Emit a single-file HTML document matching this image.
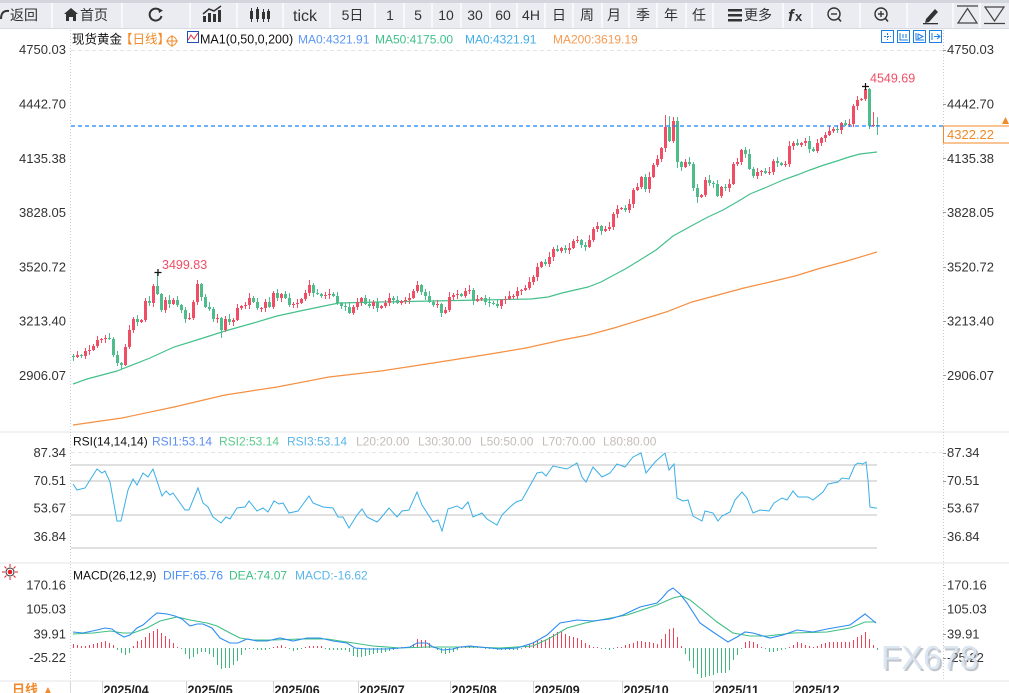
<!DOCTYPE html>
<html><head><meta charset="utf-8">
<style>
html,body{margin:0;padding:0;width:1009px;height:693px;overflow:hidden;background:#fff;}
svg{position:absolute;left:0;top:0;}
svg text{font-family:"Liberation Sans","Noto Sans CJK SC",sans-serif;}
</style></head><body>
<svg id="main" width="1009" height="693" viewBox="0 0 1009 693"></svg>
<svg id="tb" width="1009" height="29" viewBox="0 0 1009 29">
<rect x="0" y="0" width="1009" height="29" fill="#d3d6dc"/>
<rect x="0" y="3" width="1009" height="25" fill="#f7f8fa"/>
<g fill="#eaecf1">
<rect x="0" y="3" width="51" height="25"/><rect x="53" y="3" width="68" height="25"/><rect x="123" y="3" width="66" height="25"/>
<rect x="191" y="3" width="45" height="25"/><rect x="238" y="3" width="44" height="25"/><rect x="284" y="3" width="45" height="25"/>
<rect x="331" y="3" width="43" height="25"/><rect x="376" y="3" width="27" height="25"/><rect x="405" y="3" width="26" height="25"/>
<rect x="433" y="3" width="27" height="25"/><rect x="462" y="3" width="27" height="25"/><rect x="491" y="3" width="25" height="25"/>
<rect x="518" y="3" width="26" height="25"/><rect x="546" y="3" width="26" height="25"/><rect x="574" y="3" width="27" height="25"/>
<rect x="603" y="3" width="25" height="25"/><rect x="630" y="3" width="26" height="25"/><rect x="658" y="3" width="27" height="25"/>
<rect x="687" y="3" width="25" height="25"/><rect x="714" y="3" width="68" height="25"/><rect x="784" y="3" width="27" height="25"/>
<rect x="813" y="3" width="46" height="25"/><rect x="861" y="3" width="45" height="25"/><rect x="908" y="3" width="44" height="25"/>
<rect x="954" y="3" width="25" height="25"/><rect x="981" y="3" width="28" height="25"/>
</g>
<rect x="0" y="28" width="1009" height="1" fill="#d6d9de"/>
<g fill="#333" font-size="14">
<path d="M1 19 Q1 10 9 11" stroke="#333" stroke-width="2" fill="none"/>
<text x="10" y="20">返回</text>
<path d="M71 8 L78 14 L76 14 L76 21 L73 21 L73 17 L69 17 L69 21 L66 21 L66 14 L64 14 Z"/>
<text x="80" y="20">首页</text>
<path d="M160.5 11 A6 6 0 1 0 161.5 16" stroke="#333" stroke-width="2" fill="none"/>
<path d="M158 8 L163 10.5 L159 13 Z"/>
<rect x="203" y="16" width="3" height="6"/><rect x="208" y="13" width="3" height="9"/><rect x="213" y="14" width="3" height="8"/><rect x="218" y="10" width="3" height="12"/>
<path d="M203 14 L209 9 L214 11 L221 6" stroke="#333" stroke-width="1.5" fill="none"/>
<rect x="250" y="11" width="3" height="8"/><rect x="251" y="8" width="1" height="14"/>
<rect x="256" y="9" width="3" height="10"/><rect x="257" y="7" width="1" height="15"/>
<rect x="262" y="12" width="3" height="7"/><rect x="263" y="9" width="1" height="13"/>
<rect x="267" y="11" width="3" height="8"/><rect x="268" y="9" width="1" height="13"/>
<text x="293" y="21" font-size="16">tick</text>
<text x="352.5" y="20" text-anchor="middle">5日</text>
<text x="390" y="20" text-anchor="middle">1</text>
<text x="418" y="20" text-anchor="middle">5</text>
<text x="446" y="20" text-anchor="middle">10</text>
<text x="475" y="20" text-anchor="middle">30</text>
<text x="503" y="20" text-anchor="middle">60</text>
<text x="531" y="20" text-anchor="middle">4H</text>
<text x="559" y="20" text-anchor="middle">日</text>
<text x="587" y="20" text-anchor="middle">周</text>
<text x="614" y="20" text-anchor="middle">月</text>
<text x="643" y="20" text-anchor="middle">季</text>
<text x="671" y="20" text-anchor="middle">年</text>
<text x="699" y="20" text-anchor="middle">任</text>
<rect x="728" y="9" width="14" height="2.5"/><rect x="728" y="14" width="14" height="2.5"/><rect x="728" y="19" width="14" height="2.5"/>
<text x="744" y="20">更多</text>
<text x="788" y="21" font-size="17" font-weight="bold" font-style="italic" font-family="Liberation Serif">f</text>
<text x="795" y="21" font-size="13" font-weight="bold">x</text>
<circle cx="834" cy="14" r="6" stroke="#333" stroke-width="1.4" fill="none"/>
<rect x="831" y="13.3" width="6" height="1.4"/>
<path d="M838 18 L841 21.5" stroke="#333" stroke-width="1.6"/>
<circle cx="881" cy="14" r="6" stroke="#333" stroke-width="1.4" fill="none"/>
<rect x="878" y="13.3" width="6" height="1.4"/><rect x="880.3" y="11" width="1.4" height="6"/>
<path d="M885 18 L888 21.5" stroke="#333" stroke-width="1.6"/>
<path d="M926 19 L935 9 L938 12 L929 22 L925 23 Z"/>
<rect x="923" y="23" width="15" height="1.3"/>
<path d="M957 6 L978 6" stroke="#444" stroke-width="1.2"/>
<path d="M958 23 L967.5 8.5 L977 23 Z" stroke="#444" stroke-width="1.2" fill="none"/>
<path d="M985 7 L994.5 21 L1004 7 Z" stroke="#444" stroke-width="1.2" fill="none"/>
<path d="M984 23.5 L1005 23.5" stroke="#444" stroke-width="1.2"/>
</g>
</svg>
<script>
const C=[357,355,356,351,350,346,340,339,338,339,
355,363,365,347,330,319,322,320,301,303,
286,294,310,300,304,300,305,310,319,318,
302,284,297,307,309,319,318,330,319,322,
320,308,306,305,298,302,308,308,302,307,
293,298,294,298,305,304,303,299,293,285,
293,294,296,295,294,296,303,306,307,313,
307,302,298,304,306,302,308,306,303,298,
300,303,301,300,298,291,285,292,296,302,
305,304,313,310,297,295,294,296,291,290,
301,299,298,302,303,304,306,300,299,296,
296,291,290,288,282,277,267,262,264,257,
249,251,248,250,248,241,240,245,247,240,
229,226,231,229,227,214,209,208,210,204,
190,187,177,189,177,165,159,148,127,141,
121,162,167,162,164,188,197,195,180,183,
184,196,187,188,184,164,162,150,154,169,
176,172,171,173,172,161,163,165,164,146,
143,145,143,141,149,151,143,138,135,131,
129,130,123,125,124,106,100,99,89,126,
125,126];
const HI={21:272,148:115,149:116,150:117,151:117,198:86,199:88,200:112,201:117};
const LO={37:338,151:168,156:203,199:129,200:127,201:135};
const MA50=[[73,384],[87,379],[117,371],[150,358],[174,347],[200,339],[225,331],[250,324],[277,316],[300,311],[329,305],[339,303],[380,302],[433,301],[480,300],[531,299],[548,297],[562,293],[575,290],[588,287],[601,282],[614,275],[627,268],[640,260],[656,250],[673,236],[693,225],[708,217],[723,210],[737,202],[750,194],[767,187],[783,180],[797,175],[810,170],[824,165],[837,161],[849,157],[860,154],[877,152]];
const MA200=[[73,425],[122,418],[174,407],[225,395],[277,387],[329,377],[381,371],[433,363],[484,355],[526,348],[562,340],[588,335],[614,328],[640,320],[666,312],[692,302],[718,295],[744,288],[770,282],[795,276],[821,268],[847,261],[877,252]];
const RSI=[[73,484],[77,490],[85,488],[90,480],[97,469],[102,473],[105,471],[110,482],[117,521],[121,521],[128,490],[133,479],[137,485],[143,473],[148,477],[153,469],[162,496],[166,491],[170,495],[173,493],[185,510],[189,510],[198,488],[203,503],[208,507],[213,517],[221,523],[226,517],[230,519],[237,508],[245,507],[249,501],[257,511],[263,508],[268,512],[274,501],[279,504],[283,503],[289,513],[298,511],[309,496],[313,503],[323,507],[333,508],[338,517],[343,517],[349,528],[357,515],[362,509],[367,517],[377,522],[380,519],[389,508],[397,517],[402,511],[409,510],[417,492],[422,505],[433,522],[438,520],[442,531],[448,509],[457,506],[462,509],[468,502],[473,517],[482,513],[487,519],[497,525],[502,515],[510,507],[516,502],[522,500],[537,473],[542,472],[546,476],[553,466],[567,469],[577,463],[582,477],[586,482],[593,467],[602,477],[610,473],[617,464],[625,467],[633,457],[641,453],[646,473],[655,462],[665,453],[669,470],[674,464],[677,498],[683,501],[688,500],[693,516],[702,521],[705,511],[713,513],[718,521],[722,516],[730,512],[735,500],[742,492],[747,498],[753,513],[760,510],[769,511],[774,503],[782,498],[787,500],[793,491],[798,497],[808,497],[813,500],[823,492],[828,484],[838,482],[842,478],[849,479],[855,465],[858,463],[863,464],[866,462],[868,480],[870,507],[875,508],[877,508]];
const DIFF=[[73,632],[83,633],[97,630],[105,628],[112,629],[117,633],[124,637],[130,635],[137,628],[143,625],[152,617],[157,613],[167,614],[175,616],[182,619],[190,626],[197,624],[203,624],[212,628],[220,638],[230,643],[238,643],[247,639],[257,641],[267,641],[280,638],[293,641],[307,638],[320,638],[333,641],[347,643],[355,648],[367,649],[387,649],[400,648],[410,647],[417,643],[427,643],[433,647],[443,650],[453,649],[460,647],[470,646],[480,647],[490,648],[500,649],[517,648],[533,643],[547,635],[560,623],[577,620],[593,621],[610,619],[623,615],[640,607],[657,603],[663,597],[668,591],[673,588],[680,594],[687,603],[700,623],[713,632],[728,642],[737,637],[745,632],[753,633],[770,638],[783,635],[797,630],[813,632],[827,629],[850,625],[865,614],[876,623]];
const DEA=[[73,634],[93,633],[110,631],[123,633],[133,633],[147,628],[160,621],[177,617],[190,620],[207,623],[217,626],[230,633],[240,638],[253,640],[273,640],[300,639],[327,639],[347,642],[360,644],[373,646],[400,648],[427,647],[447,647],[473,647],[500,648],[533,646],[550,638],[567,628],[585,623],[600,620],[627,615],[657,605],[673,598],[682,596],[690,600],[700,608],[717,622],[733,633],[750,636],[767,636],[793,633],[827,632],[850,628],[865,622],[876,622]];
function interp(P,x){if(x<=P[0][0])return P[0][1];for(let k=1;k<P.length;k++){if(x<=P[k][0]){const a=P[k-1],b=P[k];return a[1]+(b[1]-a[1])*(x-a[0])/(b[0]-a[0]);}}return P[P.length-1][1];}
function pl(P,col,w){return '<polyline points="'+P.map(p=>p.join(',')).join(' ')+'" fill="none" stroke="'+col+'" stroke-width="'+(w||1)+'"/>';}
function t(x,y,s,col,fs,extra){return '<text x="'+x+'" y="'+y+'" fill="'+col+'" font-size="'+fs+'" '+(extra||'')+'>'+s+'</text>';}
let s='';
s+='<rect x="0" y="431.5" width="1009" height="1" fill="#e2e4e8"/>';
s+='<rect x="0" y="562.5" width="1009" height="1" fill="#e2e4e8"/>';
s+='<rect x="0" y="680.5" width="1009" height="1" fill="#e2e4e8"/>';
s+='<line x1="70.5" y1="30" x2="70.5" y2="681" stroke="#c9cbd0" stroke-dasharray="1,2"/>';
s+='<line x1="943.5" y1="30" x2="943.5" y2="681" stroke="#c9cbd0" stroke-dasharray="1,2"/>';
s+='<line x1="71" y1="50.5" x2="943" y2="50.5" stroke="#e4e4e4" stroke-dasharray="4,3"/>';
s+='<line x1="71" y1="452.5" x2="943" y2="452.5" stroke="#e4e4e4" stroke-dasharray="4,3"/>';
[465,481,515,548].forEach(y=>{s+='<rect x="71" y="'+(y-0.5)+'" width="806" height="1" fill="#c2c2c2"/>';});
const pl_=['4750.03','4442.70','4135.38','3828.05','3520.72','3213.40','2906.07'];
pl_.forEach((v,k)=>{const c=49.5+54.3*k;s+=t(66,c+4.7,v,'#333',13,'text-anchor="end"');s+=t(947,c+4.7,v,'#333',13);s+='<rect x="943" y="'+Math.round(c)+'" width="3" height="1" fill="#999"/>';});
[['87.34',452.5],['70.51',480.5],['53.67',508],['36.84',536.5],['170.16',585],['105.03',609],['39.91',634],['-25.22',657.5]].forEach(a=>{s+=t(66,a[1]+4.7,a[0],'#333',13,'text-anchor="end"');s+=t(947,a[1]+4.7,a[0],'#333',13);s+='<rect x="943" y="'+Math.round(a[1])+'" width="3" height="1" fill="#999"/>';});
s+=pl(MA200,'#f59043',1.2);
s+=pl(MA50,'#45c08b',1.2);
let cs='';
for(let i=0;i<C.length;i++){
 const x=73+4*i;const o=i==0?356:C[i-1];const c=C[i];
 const up=c<=o;let top=Math.min(o,c),bot=Math.max(o,c);if(bot-top<1)bot=top+1;
 let hi=top-(1+((i*37+11)%5)),lo=bot+(1+((i*53+7)%4));
 if(HI[i]!==undefined)hi=HI[i];if(LO[i]!==undefined)lo=LO[i];
 const col=up?'#ef4e64':'#4fbd8b';
 cs+='<rect x="'+x+'" y="'+hi+'" width="1" height="'+(lo-hi)+'" fill="'+col+'"/>';
 cs+='<rect x="'+(x-1)+'" y="'+top+'" width="3" height="'+(bot-top)+'" fill="'+col+'"/>';
}
s+='<g shape-rendering="crispEdges">'+cs+'</g>';
s+='<line x1="71" y1="126" x2="943" y2="126" stroke="#1a84f2" stroke-width="1.2" stroke-dasharray="4,3"/>';
s+='<rect x="943.5" y="126" width="66" height="17" fill="#fff" stroke="#f08a2a"/>';
s+=t(947,139,'4322.22','#f08a2a',13);
s+='<path d="M1002 124 L1005.5 117 L1009 124 Z" fill="#f08a2a"/>';
s+='<path d="M862 86.5 L869 86.5 M865.5 83 L865.5 90" stroke="#111" stroke-width="1.2"/>';
s+=t(870,82.5,'4549.69','#ef4e64',12.5);
s+='<path d="M154.5 272.5 L161.5 272.5 M158 269 L158 276" stroke="#111" stroke-width="1.2"/>';
s+=t(162,269,'3499.83','#ef4e64',12.5);
s+=t(72,43.5,'现货黄金','#111',12.5);
s+=t(120,43.5,'【日线】','#f08a2a',12.5);
s+='<circle cx="172" cy="41" r="4.5" stroke="#f08a2a" fill="none"/><path d="M166 41 L178 41 M172 35 L172 47" stroke="#f08a2a"/>';
s+='<rect x="187.5" y="31.5" width="11" height="11" fill="#fff" stroke="#1f4fb8"/><path d="M188 40 L191 35 L194 39 L198 33" stroke="#e03040" fill="none"/>';
s+=t(200,43.5,'MA1(0,50,0,200)','#111',12.5);
s+=t(298,43.5,'MA0:4321.91','#5a97f5',12);
s+=t(375,43.5,'MA50:4175.00','#3fc18b',12);
s+=t(465,43.5,'MA0:4321.91','#3fade9',12);
s+=t(553,43.5,'MA200:3619.19','#f59a52',12);
[881,897,913,929].forEach((x,k)=>{s+='<rect x="'+(x+0.5)+'" y="30.5" width="12" height="12" fill="#fff" stroke="#1b7ee0"/>';});
s+='<path d="M884 36.5 L891 36.5 M887.5 33 L887.5 40" stroke="#1b7ee0" stroke-dasharray="2,1"/>';
s+='<path d="M900 33 L900 40 L908 40 M903 34 L903 38 M906 34 L906 38" stroke="#1b7ee0" fill="none"/>';
s+='<path d="M916 33 L916 40 L924 40 M918 34 L923 36.5 L918 39 Z" stroke="#1b7ee0" fill="none"/>';
s+='<path d="M932 33 L932 40 M934 36.5 L940 36.5 M937 34 L940 36.5 L937 39" stroke="#1b7ee0" fill="none"/>';
s+=pl(RSI,'#38afe6',1);
s+=t(73,445.5,'RSI(14,14,14)','#111',12);
s+=t(152,445.5,'RSI1:53.14','#5b8ef5',12);
s+=t(219,445.5,'RSI2:53.14','#5ccb8c',12);
s+=t(287,445.5,'RSI3:53.14','#5ab5ea',12);
s+=t(356,445.5,'L20:20.00','#c4bcb8',12);
s+=t(418,445.5,'L30:30.00','#c4bcb8',12);
s+=t(480,445.5,'L50:50.00','#c4bcb8',12);
s+=t(542,445.5,'L70:70.00','#c4bcb8',12);
s+=t(603,445.5,'L80:80.00','#c4bcb8',12);
let hs='';
for(let i=0;i<C.length;i++){const x=73+4*i;const h=2*(interp(DEA,x)-interp(DIFF,x));
 let hh=Math.max(Math.round(Math.abs(h)),1);
 if(h>=0)hs+='<rect x="'+x+'" y="'+(648-hh)+'" width="1" height="'+hh+'" fill="#f0405a"/>';
 else hs+='<rect x="'+x+'" y="648" width="1" height="'+hh+'" fill="#3fb87c"/>';}
s+='<g shape-rendering="crispEdges">'+hs+'</g>';
s+=pl(DEA,'#3fbf84',1.1);
s+=pl(DIFF,'#2e8cf2',1.1);
s+=t(73,579.5,'MACD(26,12,9)','#111',12);
s+=t(163,579.5,'DIFF:65.76','#4a8ef5',12);
s+=t(229,579.5,'DEA:74.07','#3fbf84',12);
s+=t(295,579.5,'MACD:-16.62','#5ab5ea',12);
s+='<g stroke="#e8202a" stroke-width="1"><path d="M10 564 L10 567 M10 577 L10 580 M2 572 L5 572 M15 572 L18 572 M4.5 566.5 L6.5 568.5 M13.5 575.5 L15.5 577.5 M4.5 577.5 L6.5 575.5 M13.5 568.5 L15.5 566.5"/></g>';
s+='<circle cx="10" cy="572" r="4" fill="none" stroke="#333"/><circle cx="10" cy="572" r="2.3" fill="#e8202a"/>';
s+='<text x="883" y="671" font-size="33" fill="#8f99a5" opacity="0.55">FX678</text>';
s+='<text x="881" y="669" font-size="33" fill="#dbe5f1" opacity="0.92">FX678</text>';
s+='<rect x="70" y="681" width="1" height="12" fill="#d6d8dc"/>';
s+=t(12,694,'日线','#f08a2a',13,'font-weight="bold"');
s+=t(43,693,'▲','#f08a2a',10);
[[102,'2025/04'],[186,'2025/05'],[273,'2025/06'],[358,'2025/07'],[450,'2025/08'],[533,'2025/09'],[622,'2025/10'],[713,'2025/11'],[793,'2025/12']].forEach(a=>{
 s+='<rect x="'+a[0]+'" y="681" width="1" height="12" fill="#d0d2d6"/>';
 s+=t(a[0]+1.5,694.5,a[1],'#222',12.5,'font-weight="bold"');});
document.getElementById('main').innerHTML=s;
</script>
</body></html>
